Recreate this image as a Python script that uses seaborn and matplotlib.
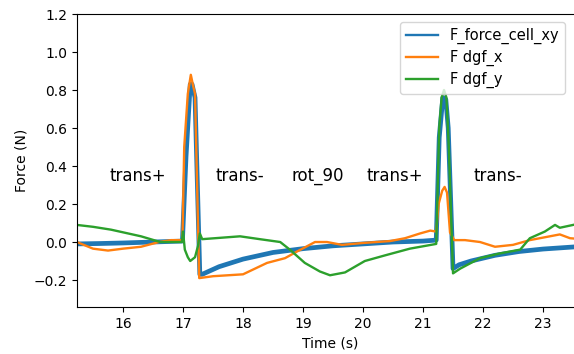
import pandas as pd
import numpy as np
import matplotlib
matplotlib.use("Agg")
import matplotlib.pyplot as plt
import seaborn as sns

# =========================
# Data
# =========================
t_cell = [15.23, 15.6, 16.0, 16.5, 16.99, 17.05, 17.12, 17.15, 17.2, 17.28, 17.32,
          17.6, 18.0, 18.5, 19.0, 19.5, 20.0, 20.5, 21.0, 21.22, 21.27, 21.33,
          21.38, 21.42, 21.5, 21.6, 21.8, 22.2, 22.6, 23.0, 23.65]
f_cell = [-0.01, -0.008, -0.005, 0.0, 0.005, 0.45, 0.83, 0.83, 0.76, -0.17, -0.17,
          -0.13, -0.09, -0.055, -0.035, -0.02, -0.01, 0.0, 0.005, 0.01, 0.55, 0.76,
          0.75, 0.6, -0.14, -0.12, -0.1, -0.07, -0.05, -0.037, -0.023]

t_dgf_x = [15.23, 15.5, 15.75, 16.0, 16.3, 16.6, 16.8, 16.99, 17.02, 17.08, 17.13,
           17.17, 17.2, 17.27, 17.5, 18.0, 18.4, 18.7, 18.9, 19.2, 19.4, 19.65,
           20.0, 20.45, 20.7, 20.95, 21.12, 21.22, 21.26, 21.32, 21.36, 21.4,
           21.45, 21.52, 21.7, 21.95, 22.2, 22.5, 22.78, 23.03, 23.28, 23.45, 23.65]
f_dgf_x = [0.0, -0.035, -0.045, -0.035, -0.025, 0.0, 0.01, 0.01, 0.5, 0.78, 0.88,
           0.82, 0.78, -0.19, -0.18, -0.17, -0.11, -0.085, -0.05, 0.0, 0.0, -0.015,
           -0.005, 0.005, 0.02, 0.045, 0.06, 0.055, 0.2, 0.27, 0.29, 0.26,
           0.05, 0.01, 0.01, 0.0, -0.025, -0.015, 0.01, 0.025, 0.04, 0.02, 0.015]

t_dgf_y = [15.23, 15.5, 15.8, 16.3, 16.62, 16.98, 17.0, 17.03, 17.08, 17.12, 17.2,
           17.25, 17.28, 17.32, 17.95, 18.28, 18.62, 18.78, 19.03, 19.28, 19.45,
           19.7, 20.03, 20.37, 20.78, 21.22, 21.27, 21.31, 21.35, 21.39, 21.43,
           21.5, 21.62, 21.95, 22.28, 22.62, 22.78, 23.03, 23.2, 23.28, 23.65]
f_dgf_y = [0.09, 0.08, 0.065, 0.03, 0.0, 0.0, 0.055, -0.04, -0.08, -0.1, -0.08,
           -0.02, 0.045, 0.015, 0.03, 0.015, 0.0, -0.04, -0.11, -0.155, -0.175,
           -0.16, -0.1, -0.07, -0.035, -0.01, 0.6, 0.76, 0.8, 0.76, 0.5,
           -0.165, -0.14, -0.085, -0.06, -0.04, 0.02, 0.055, 0.09, 0.075, 0.1]

phase_labels = ["trans+", "trans-", "rot_90", "trans+", "trans-"]
phase_x = [16.25, 17.95, 19.25, 20.53, 22.25]
phase_y = 0.35

series_names = ["F_force_cell_xy", "F dgf_x", "F dgf_y"]
colors = ["#1f77b4", "#ff7f0e", "#2ca02c"]

df = pd.concat([
    pd.DataFrame({"Time (s)": t_cell, "Force (N)": f_cell, "series": series_names[0]}),
    pd.DataFrame({"Time (s)": t_dgf_x, "Force (N)": f_dgf_x, "series": series_names[1]}),
    pd.DataFrame({"Time (s)": t_dgf_y, "Force (N)": f_dgf_y, "series": series_names[2]}),
], ignore_index=True)

# =========================
# Plot
# =========================
fig = plt.figure(figsize=(5.74, 3.54), dpi=100)
# axes run a little past the right edge (the reference is cropped there)
ax = fig.add_axes([77 / 574, 47 / 354, 506 / 574, 293 / 354])

widths = [3.4, 1.7, 1.7]
for name, c, w in zip(series_names, colors, widths):
    sns.lineplot(data=df[df["series"] == name], x="Time (s)", y="Force (N)",
                 color=c, linewidth=w, label=name, ax=ax, sort=False,
                 estimator=None)

for lab, xx in zip(phase_labels, phase_x):
    ax.text(xx, phase_y, lab, fontsize=12, ha="center", va="center")

ax.set_xlim(15.233, 15.233 + 506 / 60)
ax.set_ylim(-0.342, 1.2)
ax.set_xticks([16, 17, 18, 19, 20, 21, 22, 23])
ax.set_yticks([-0.2, 0.0, 0.2, 0.4, 0.6, 0.8, 1.0, 1.2])

leg = ax.legend(loc="upper left", bbox_to_anchor=(323 / 506, 1 - 8 / 293),
                borderaxespad=0, fontsize=10.5, handlelength=2.2,
                labelspacing=0.4)
for h in leg.get_lines():
    h.set_linewidth(1.7)

fig.savefig("out.png", dpi=100)
